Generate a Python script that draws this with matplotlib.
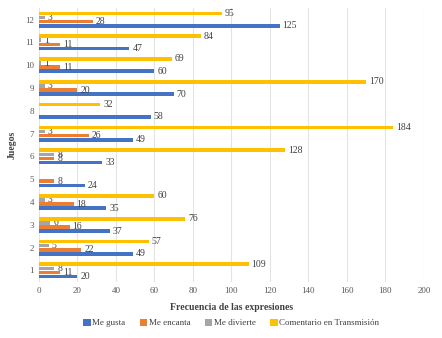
import numpy as np
import matplotlib.pyplot as plt

plt.rcParams['font.family'] = ['Liberation Serif', 'DejaVu Serif']

# Data
juegos = ['1', '2', '3', '4', '5', '6', '7', '8', '9', '10', '11', '12']
me_gusta = [20, 49, 37, 35, 24, 33, 49, 58, 70, 60, 47, 125]
me_encanta = [11, 22, 16, 18, 8, 8, 26, 0, 20, 11, 11, 28]
me_divierte = [8, 5, 6, 3, 0, 8, 3, 0, 3, 1, 1, 3]
comentario = [109, 57, 76, 60, 0, 128, 184, 32, 170, 69, 84, 95]

series = [
    ('Me gusta', me_gusta, '#4472C4'),
    ('Me encanta', me_encanta, '#ED7D31'),
    ('Me divierte', me_divierte, '#A5A5A5'),
    ('Comentario en Transmisión', comentario, '#FFC000'),
]

fig = plt.figure(figsize=(4.42, 3.38), dpi=100)
ax = fig.add_axes([0.088, 0.166, 0.871, 0.81])

y = np.arange(len(juegos))
h = 0.18
for i, (name, vals, col) in enumerate(series):
    pos = y + (i - 1.5) * h
    ax.barh(pos, vals, height=h * 0.9, color=col, label=name, zorder=3)
    for p, v in zip(pos, vals):
        if v > 0:
            ax.text(v + 1.5, p, str(v), va='center', ha='left',
                    fontsize=7, color='#404040')

ax.set_xlim(0, 200)
ax.set_ylim(-0.5, len(juegos) - 0.5)
ax.set_xticks(np.arange(0, 201, 20))
ax.set_yticks(y)
ax.set_yticklabels(juegos)
ax.tick_params(axis='both', length=0, labelsize=6.5, colors='#595959')
ax.grid(axis='x', color='#E3E3E3', lw=0.8, zorder=0)
for s in ax.spines.values():
    s.set_visible(False)

ax.set_xlabel('Frecuencia de las expresiones', fontsize=7, fontweight='bold',
              color='#404040', labelpad=6)
ax.set_ylabel('Juegos', fontsize=7, fontweight='bold', color='#404040', labelpad=6)

ax.legend(loc='center', bbox_to_anchor=(0.5, -0.15), ncol=4, frameon=False,
          fontsize=6.5, handlelength=0.8, handleheight=0.8, columnspacing=1.6,
          handletextpad=0.2, labelcolor='#404040')

fig.savefig('out.png', dpi=100)
